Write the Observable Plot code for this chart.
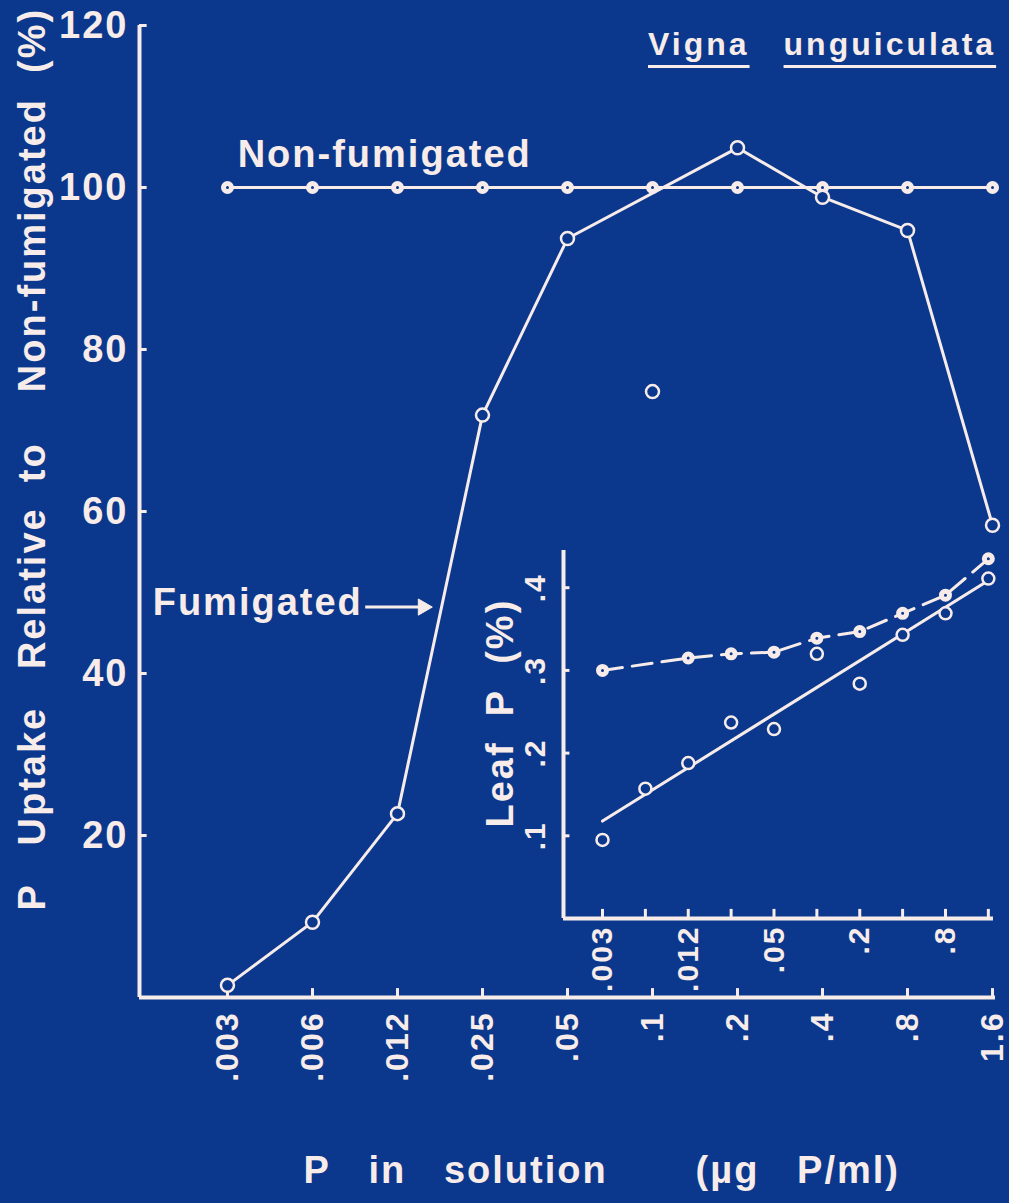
<!DOCTYPE html>
<html><head><meta charset="utf-8">
<script src="https://cdn.jsdelivr.net/npm/d3@7"></script>
<script src="https://cdn.jsdelivr.net/npm/@observablehq/plot@0.6"></script>
<style>
html,body{margin:0;padding:0;background:#0b388c;overflow:hidden;}
#chart{position:relative;width:1009px;height:1203px;background:#0b388c;overflow:hidden;font-family:"Liberation Sans",Arial,sans-serif;}
#chart svg{position:absolute;}
#title{position:absolute;left:648px;top:28px;font-size:32px;font-weight:bold;color:#f7ecea;white-space:pre;letter-spacing:3px;line-height:32px;z-index:3;}
#title span{text-decoration:underline;text-decoration-thickness:3px;text-underline-offset:10px;}
</style></head>
<body><div id="chart"><div id="title"><span>Vigna</span><span style="margin-left:34px">unguiculata</span></div></div>
<script>
// ---- data ----
const categories = [".003", ".006", ".012", ".025", ".05", ".1", ".2", ".4", ".8", "1.6"];
const nonFumigated = [100, 100, 100, 100, 100, 100, 100, 100, 100, 100];
const fumigated = [1.5, 9.3, 22.7, 71.9, 93.7, null, 104.9, 98.8, 94.7, 58.3];
const fumigatedIsolated = [{c: ".1", v: 74.8}];
const yTicks = [20, 40, 60, 80, 100, 120];
const yTickLabels = ["20", "40", "60", "80", "100", "120"];

const leafPNonFumigated = [0.300, null, 0.315, 0.320, 0.322, 0.339, 0.347, 0.369, 0.391, 0.435];
const leafPFumigated = [0.095, 0.157, 0.188, 0.237, 0.229, 0.320, 0.284, 0.343, 0.369, 0.411];
const insetYTicks = [0.1, 0.2, 0.3, 0.4];
const insetYTickLabels = [".1", ".2", ".3", ".4"];
const insetXLabels = [".003", ".012", ".05", ".2", ".8"];

const yTitle = "P\u00a0\u00a0\u00a0Uptake\u00a0\u00a0\u00a0Relative\u00a0\u00a0to\u00a0\u00a0\u00a0\u00a0Non-fumigated\u00a0\u00a0(%)";
const xTitle = "P\u00a0\u00a0\u00a0in\u00a0\u00a0\u00a0solution\u00a0\u00a0\u00a0\u00a0\u00a0\u00a0\u00a0(\u00b5g\u00a0\u00a0\u00a0P/ml)";
const insetYTitle = "Leaf\u00a0\u00a0P\u00a0\u00a0(%)";
const labels = [{text: "Non-fumigated", i: 0.12, v: 102.5}, {text: "Fumigated", i: -0.88, v: 47.2}];
const arrows = [{i1: 1.62, i2: 2.3, v: 48.2}];

// ---- style ----
const INK = "#f7ecea", BG = "#0b388c";
const FONT = "Liberation Sans, Arial, sans-serif";
const idx = categories.map((c, i) => i);
const xDomMain = [-1.035, 9.035];
const xDomInset = [-0.91, 9.12];
const yDomInset = [0, 0.445];

const mainData = categories.map((c, i) => ({i, c, non: nonFumigated[i], fum: fumigated[i]}));
const insetData = categories.map((c, i) => ({i, c, non: leafPNonFumigated[i], fum: leafPFumigated[i]}));
const txt = {fill: INK, fontFamily: FONT, fontWeight: "bold"};

const main = Plot.plot({
  width: 1009, height: 1203,
  marginTop: 25, marginBottom: 206, marginLeft: 139, marginRight: 14,
  x: {domain: xDomMain, axis: null},
  y: {domain: [0, 120], axis: null},
  style: {background: "transparent", overflow: "visible", color: INK, fontFamily: FONT, letterSpacing: "2px"},
  marks: [
    Plot.ruleY([0], {stroke: INK, strokeWidth: 4}),
    Plot.ruleX([xDomMain[0]], {y1: 0, y2: 120, stroke: INK, strokeWidth: 4}),
    Plot.ruleX(idx, {x: d => d, y1: 0, y2: 1.1, stroke: INK, strokeWidth: 3}),
    Plot.ruleY(yTicks, {y: d => d, x1: xDomMain[0], x2: xDomMain[0] + 0.09, stroke: INK, strokeWidth: 3}),
    Plot.axisY(yTicks, {anchor: "left", tickSize: 0, tickPadding: 11, label: null, fontSize: 38, fontWeight: "bold", fill: INK,
      tickFormat: d => yTickLabels[yTicks.indexOf(d)]}),
    Plot.text(categories, {x: (d, i) => i, frameAnchor: "bottom", dy: 14, rotate: -90, textAnchor: "end", lineAnchor: "middle", fontSize: 32, ...txt}),
    Plot.text([yTitle], {frameAnchor: "bottom-left", dx: -107, dy: -87, rotate: -90, textAnchor: "start", lineAnchor: "middle", fontSize: 38, ...txt}),
    Plot.text([xTitle], {frameAnchor: "bottom-left", dx: 164, dy: 185, textAnchor: "start", lineAnchor: "bottom", fontSize: 38, ...txt}),
    Plot.line(mainData, {x: "i", y: "non", stroke: INK, strokeWidth: 3}),
    Plot.line(mainData, {filter: d => d.fum != null, x: "i", y: "fum", stroke: INK, strokeWidth: 3}),
    Plot.dot(mainData, {x: "i", y: "non", r: 4, fill: BG, stroke: INK, strokeWidth: 5}),
    Plot.dot(mainData, {filter: d => d.fum != null, x: "i", y: "fum", r: 6.5, fill: BG, stroke: INK, strokeWidth: 2.5}),
    Plot.dot(fumigatedIsolated, {x: d => categories.indexOf(d.c), y: "v", r: 6.5, fill: BG, stroke: INK, strokeWidth: 2.5}),
    Plot.text(labels, {x: "i", y: "v", text: "text", textAnchor: "start", lineAnchor: "bottom", fontSize: 38, ...txt}),
    Plot.link(arrows, {x1: "i1", x2: "i2", y1: "v", y2: "v", stroke: INK, strokeWidth: 3}),
    Plot.dot(arrows, {x: "i2", y: "v", symbol: "triangle", rotate: 90, r: 6, fill: INK, stroke: INK, strokeWidth: 1})
  ]
});
main.style.left = "0px"; main.style.top = "0px";

const inset = Plot.plot({
  width: 569, height: 480,
  marginTop: 20, marginBottom: 92, marginLeft: 123, marginRight: 16,
  x: {domain: xDomInset, axis: null},
  y: {domain: yDomInset, axis: null},
  style: {background: "transparent", overflow: "visible", color: INK, fontFamily: FONT, letterSpacing: "2px"},
  marks: [
    Plot.ruleY([0], {stroke: INK, strokeWidth: 4}),
    Plot.ruleX([xDomInset[0]], {y1: yDomInset[0], y2: yDomInset[1], stroke: INK, strokeWidth: 4}),
    Plot.ruleX(idx, {x: d => d, y1: 0, y2: 0.011, stroke: INK, strokeWidth: 3}),
    Plot.ruleY(insetYTicks, {y: d => d, x1: xDomInset[0], x2: xDomInset[0] + 0.15, stroke: INK, strokeWidth: 3}),
    Plot.text(insetYTickLabels, {y: (d, i) => insetYTicks[i], frameAnchor: "left", dx: -28, rotate: -90, textAnchor: "middle", lineAnchor: "middle", fontSize: 30, ...txt}),
    Plot.text([insetYTitle], {frameAnchor: "bottom-left", dx: -63, dy: -91, rotate: -90, textAnchor: "start", lineAnchor: "middle", fontSize: 38, ...txt}),
    Plot.text(insetXLabels, {x: d => categories.indexOf(d), frameAnchor: "bottom", dy: 7, rotate: -90, textAnchor: "end", lineAnchor: "middle", fontSize: 30, ...txt}),
    Plot.line(insetData, {filter: d => d.non != null, x: "i", y: "non", stroke: INK, strokeWidth: 3, strokeDasharray: "20,10"}),
    Plot.linearRegressionY(insetData, {x: "i", y: "fum", ci: 0, stroke: INK, strokeWidth: 3}),
    Plot.dot(insetData, {filter: d => d.non != null, x: "i", y: "non", r: 4, fill: BG, stroke: INK, strokeWidth: 5}),
    Plot.dot(insetData, {x: "i", y: "fum", r: 6, fill: BG, stroke: INK, strokeWidth: 2.5})
  ]
});
inset.style.left = "440px"; inset.style.top = "530px";

const chart = document.getElementById("chart");
chart.appendChild(main);
chart.appendChild(inset);
</script>
</body></html>
